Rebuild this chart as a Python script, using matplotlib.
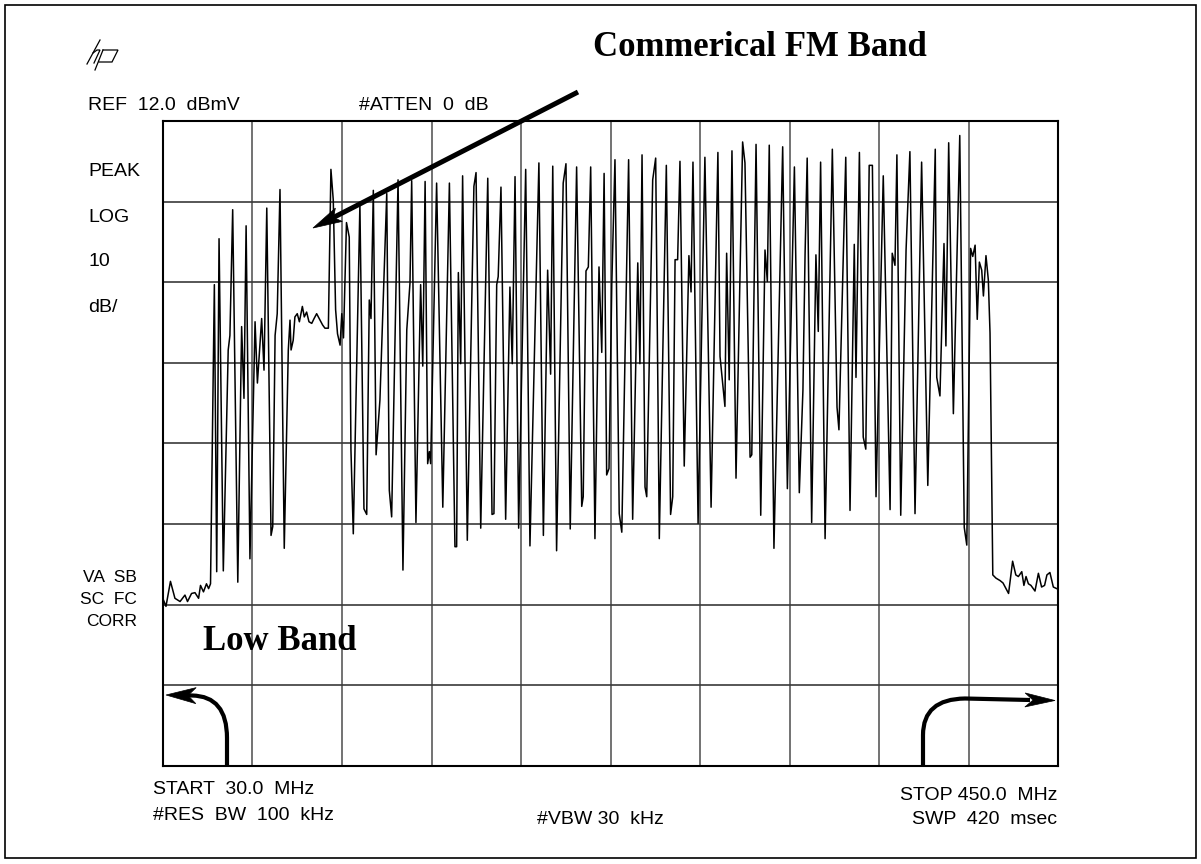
import matplotlib
matplotlib.use("Agg")
import matplotlib.pyplot as plt
import numpy as np
from matplotlib.patches import Polygon, Rectangle, PathPatch
from matplotlib.path import Path

# analyzer settings
start_mhz = 30.0
stop_mhz = 450.0
ref_dbmv = 12.0
db_per_div = 10
n_xdiv = 10
n_ydiv = 8

# trace (MHz, dBmV)
freq_floor_lo = [30.2, 31.4, 33.5, 35.6, 38.0, 40.3, 41.5, 43.4, 45.0, 46.7, 47.6, 49.0, 50.4, 51.4, 52.3]
level_floor_lo = [-47.4, -48.2, -45.1, -47.2, -47.6, -46.8, -47.6, -46.6, -46.5, -47.2, -45.6, -46.4, -45.4, -46.0, -45.4]

freq_low_band = [54.1, 55.2, 56.3, 58.3, 60.6, 61.4, 62.7, 65.1, 66.9, 68.0, 69.0, 70.8, 73.2, 74.3, 76.3,
                 77.4, 78.7, 80.7, 81.5, 82.6, 83.6, 84.9, 86.9]
level_low_band = [-8.3, -43.9, -2.6, -43.8, -16.4, -14.6, 1.0, -45.2, -13.5, -22.4, -1.0, -42.3, -12.9, -20.5, -12.5,
                  -18.9, 1.2, -39.4, -38.3, -14.6, -11.9, 3.5, -41.0]

freq_fm = [88.8, 89.6, 90.1, 91.1, 91.9, 93.0, 94.0, 95.4, 96.3, 97.4, 98.5, 99.8, 100.9, 102.1, 103.7,
           104.9, 106.0, 107.6]
level_fm = [-16.4, -12.7, -16.4, -15.2, -12.3, -11.9, -12.9, -11.0, -12.3, -11.7, -12.9, -13.1, -12.5, -11.9, -12.7,
            -13.3, -13.7, -13.7]

freq_mid_a = [108.8, 109.9, 111.0, 111.9, 113.1, 113.9, 114.7, 116.1, 117.4, 118.2, 119.3, 122.4, 124.3, 125.6,
              126.8, 127.6, 128.7, 130.0, 131.8]
level_mid_a = [6.0, 2.2, -11.4, -14.4, -15.8, -11.9, -14.9, -0.6, -2.4, -28.8, -39.2, 1.6, -36.1, -36.8,
               -10.2, -12.5, 3.4, -29.4, -22.6]

freq_mid_b = [135.0, 136.2, 137.3, 140.3, 142.6, 144.4, 145.9, 146.7, 148.7, 150.9, 151.9, 153.0, 154.2, 155.0,
              155.6, 158.4, 161.3, 164.4, 167.0, 167.8, 168.6, 169.7, 170.6, 172.8]
level_mid_b = [3.0, -33.8, -37.1, 4.7, -43.7, -13.9, -8.1, 4.6, -37.8, -8.3, -18.4, 4.5, -30.5, -29.0,
               -30.5, 4.3, -35.9, 4.3, -40.8, -40.8, -6.8, -18.1, 5.2, -40.0]

freq_high_a = [175.9, 176.9, 179.1, 182.4, 184.4, 185.3, 186.6, 187.3, 188.6, 190.8, 192.8, 193.9, 195.2, 196.9,
               200.2, 202.2, 206.4, 208.5, 210.5, 211.9, 212.9, 214.7, 217.8, 219.1, 221.1, 224.1, 226.5, 227.2,
               228.5, 229.6, 230.7, 232.7, 234.6, 235.9]
level_high_a = [3.9, 5.6, -38.5, 4.9, -36.8, -36.7, -8.3, -7.3, 3.8, -37.4, -8.6, -18.1, 5.1, -38.5,
                6.0, -40.7, 6.8, -39.4, -6.5, -19.4, 6.4, -41.3, 4.3, 6.7, -38.6, 6.3, -35.8, -34.6,
                -6.6, -6.1, 6.3, -39.8, -6.1, -16.7]

freq_high_b = [237.0, 238.2, 239.3, 240.6, 242.1, 244.1, 245.3, 248.5, 250.4, 252.8, 253.8, 254.8, 256.2, 257.0,
               259.8, 261.2, 262.9, 266.2, 268.2, 269.2, 270.3, 271.5, 272.6, 274.6, 276.8, 277.8, 278.7, 281.1,
               284.3, 287.2, 290.4, 291.4, 293.7, 294.5, 295.7, 297.0, 298.9]
level_high_b = [5.5, -31.9, -31.1, -8.3, 7.2, -36.7, -39.0, 7.2, -37.4, -5.6, -18.1, 7.8, -33.4, -34.6,
                4.7, 7.4, -39.8, 6.5, -36.8, -34.6, -5.2, -5.2, 7.0, -30.8, -4.7, -9.2, 6.9, -37.9,
                7.5, -35.9, 8.1, -17.2, -23.4, -4.4, -20.1, 8.3, -32.3]

freq_high_c = [302.0, 303.1, 305.5, 306.3, 308.3, 310.5, 312.5, 313.6, 314.5, 316.7, 320.8, 323.0, 326.3, 328.6,
               330.3, 331.3, 332.3, 334.4, 336.4, 337.5, 338.6, 340.7, 344.1, 346.3, 347.2, 350.4, 352.4, 354.4,
               355.2, 356.8, 358.6, 359.8, 361.4, 362.9, 364.6, 368.0, 371.2, 372.2, 373.5, 374.4, 376.2, 378.7,
               380.5, 382.9, 386.0, 388.9, 392.4, 393.1, 394.6, 396.5, 397.4, 398.7, 400.9, 403.9, 406.0, 407.2,
               409.0, 410.0, 411.1, 412.1, 413.1, 414.2, 415.0, 416.2, 417.3, 418.1]
level_high_c = [9.4, 6.8, -29.7, -29.4, 9.1, -36.9, -4.0, -7.9, 9.0, -41.0, 8.8, -33.6, 6.3, -34.1,
                -21.4, -4.6, 7.4, -37.8, -4.6, -14.1, 6.9, -39.8, 8.5, -23.5, -26.3, 7.5, -36.3, -3.3,
                -19.8, 8.1, -27.2, -28.7, 6.5, 6.5, -34.6, 5.2, -36.2, -4.4, -5.9, 7.8, -36.9, -4.0,
                8.2, -36.7, 6.9, -33.2, 8.5, -19.8, -22.1, -3.2, -15.9, 9.3, -24.3, 10.2, -38.4, -40.6,
                -3.8, -4.8, -3.4, -12.6, -5.5, -6.5, -9.7, -4.7, -7.7, -14.3]

freq_floor_hi = [419.4, 420.9, 422.8, 424.2, 425.4, 426.8, 428.7, 430.2, 431.4, 433.0, 434.0, 435.0, 436.1,
                 437.3, 439.2, 440.8, 442.3, 443.7, 444.8, 446.2, 447.8, 449.4]
level_floor_hi = [-44.3, -44.7, -45.0, -45.3, -45.9, -46.6, -42.6, -44.3, -44.5, -43.9, -45.6, -44.5, -45.4,
                  -45.6, -46.3, -44.1, -45.8, -45.6, -44.3, -44.0, -45.8, -46.0]

freq = (freq_floor_lo + freq_low_band + freq_fm + freq_mid_a + freq_mid_b + freq_high_a + freq_high_b
        + freq_high_c + freq_floor_hi)
level = (level_floor_lo + level_low_band + level_fm + level_mid_a + level_mid_b + level_high_a + level_high_b
         + level_high_c + level_floor_hi)

W, H = 1201, 864
fig = plt.figure(figsize=(W / 100, H / 100), dpi=100)
fig.patch.set_facecolor("white")

ax = fig.add_axes([163 / W, 1 - 766 / H, 895 / W, 645 / H])
bottom_dbmv = ref_dbmv - db_per_div * n_ydiv
ax.set_xlim(start_mhz, stop_mhz)
ax.set_ylim(bottom_dbmv, ref_dbmv)
ax.set_xticks(np.linspace(start_mhz, stop_mhz, n_xdiv + 1))
ax.set_yticks(np.linspace(bottom_dbmv, ref_dbmv, n_ydiv + 1))
ax.tick_params(length=0, labelbottom=False, labelleft=False)
ax.grid(True, axis="x", color="#5a5a5a", lw=1.2)
ax.grid(True, axis="y", color="#3a3a3a", lw=1.2)
for s in ax.spines.values():
    s.set_color("black")
    s.set_linewidth(1.5)
ax.plot(freq, level, color="black", lw=1.1)

# overlay in pixel units for the screen annotations
ov = fig.add_axes([0, 0, 1, 1], zorder=5)
ov.set_xlim(0, W)
ov.set_ylim(H, 0)
ov.axis("off")
ov.patch.set_alpha(0)
ov.add_patch(Rectangle((5, 5), 1191, 853, fill=False, ec="black", lw=1.2))

sans = "Liberation Sans"
serif = "Liberation Serif"
fs = 14

def label(x, y, s, ha="left", size=fs):
    ov.text(x, y, s, ha=ha, va="center", fontsize=size, family=sans)

label(88, 105, "REF  12.0  dBmV")
label(359, 105, "#ATTEN  0  dB")
label(88, 172, "PEAK")
label(88, 217, "LOG")
label(88, 262, "10")
label(88, 308, "dB/")
label(137, 577, "VA  SB", ha="right", size=12.5)
label(137, 600, "SC  FC", ha="right", size=12.5)
label(137, 622, "CORR", ha="right", size=12.5)
label(153, 790, "START  30.0  MHz")
label(153, 815, "#RES  BW  100  kHz")
label(537, 819, "#VBW 30  kHz")
label(1057, 796, "STOP 450.0  MHz", ha="right")
label(1057, 819, "SWP  420  msec", ha="right")

ov.text(593, 48, "Commerical FM Band", ha="left", va="center", fontsize=25,
        family=serif, fontweight="bold")
ov.text(203, 641, "Low Band", ha="left", va="center", fontsize=25,
        family=serif, fontweight="bold")

# thin slanted hp logo
logo_kw = dict(color="black", lw=0.9, solid_joinstyle="miter")
ov.plot([87, 100], [64, 40], **logo_kw)
ov.plot([93, 97, 100, 94], [53, 50, 50, 63], **logo_kw)
ov.plot([103, 95], [50, 70], **logo_kw)
ov.plot([103, 118, 112, 99], [50, 50, 62, 62], **logo_kw)


def head(tip, back, length, half_w, notch):
    tx, ty = tip
    dx, dy = tx - back[0], ty - back[1]
    n = np.hypot(dx, dy)
    ux, uy = dx / n, dy / n
    px, py = -uy, ux
    bx, by = tx - ux * length, ty - uy * length
    pts = [(tx, ty), (bx + px * half_w, by + py * half_w),
           (tx - ux * (length - notch), ty - uy * (length - notch)),
           (bx - px * half_w, by - py * half_w)]
    ov.add_patch(Polygon(pts, closed=True, fc="black", ec="black", lw=0.5))
    return tx - ux * (length - notch), ty - uy * (length - notch)


# straight arrow to the FM band
tail = (578, 92)
tip = (313, 228)
nx, ny = head(tip, tail, 29, 7.5, 6)
ov.plot([tail[0], nx], [tail[1], ny], color="black", lw=3.6, solid_capstyle="butt")

# curved arrows at the band edges
left = Path([(227, 767), (227, 738), (227, 696), (192, 695.5), (182, 695.2)],
            [Path.MOVETO, Path.LINETO, Path.CURVE3, Path.CURVE3, Path.LINETO])
ov.add_patch(PathPatch(left, fill=False, ec="black", lw=3.0, capstyle="butt"))
head((166, 695), (190, 695.5), 30, 8, 8)

right = Path([(923, 767), (923, 735), (923, 699), (965, 698.5), (1030, 700)],
             [Path.MOVETO, Path.LINETO, Path.CURVE3, Path.CURVE3, Path.LINETO])
ov.add_patch(PathPatch(right, fill=False, ec="black", lw=3.0, capstyle="butt"))
head((1055, 700.5), (1000, 699.5), 30, 7, 8)

fig.savefig("out.png", dpi=100)
